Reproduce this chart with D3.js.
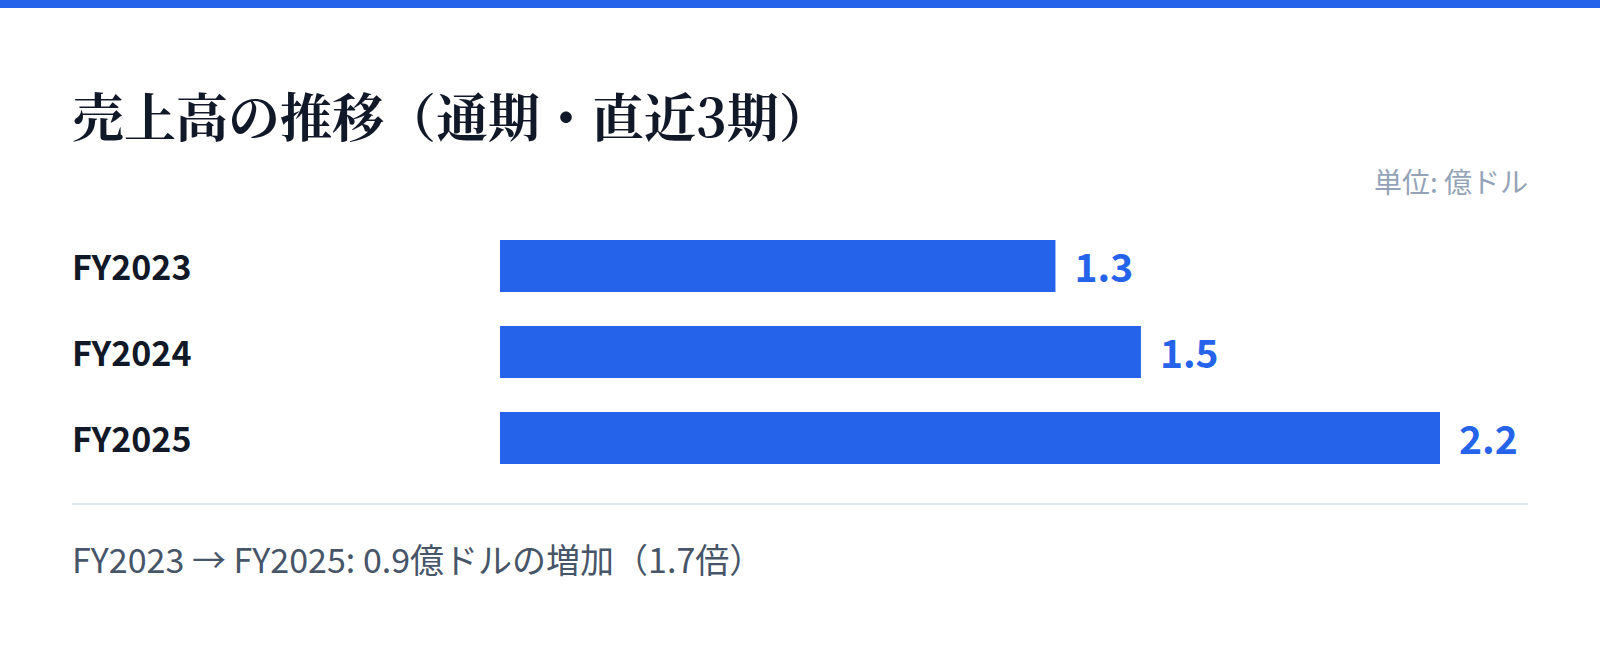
<!DOCTYPE html>
<html>
<head>
<meta charset="utf-8">
<script src="https://cdn.jsdelivr.net/npm/d3@7"></script>
<style>
  html, body { margin: 0; padding: 0; background: #fff; }
  #chart { width: 1600px; height: 647px; }
</style>
</head>
<body>
<div id="chart"></div>
<script>
const categories = ["FY2023", "FY2024", "FY2025"];
const sales = [1.3, 1.5, 2.2];
const title = "売上高の推移（通期・直近3期）";
const unitLabel = "単位: 億ドル";
const footnote = "FY2023 → FY2025: 0.9億ドルの増加（1.7倍）";

function renderSalesChart(containerId) {
  const width = 1600;
  const height = 647;
  const sans = "'Noto Sans CJK JP', 'Noto Sans', sans-serif";
  const serif = "'Noto Serif CJK JP', 'Noto Serif', serif";
  const blue = "#2563eb";
  const left = 72;
  const right = 1528;

  const svg = d3.select(`#${containerId}`)
    .append("svg")
    .attr("width", width)
    .attr("height", height);

  svg.append("rect")
    .attr("x", 0).attr("y", 0)
    .attr("width", width).attr("height", 8)
    .attr("fill", blue);

  svg.append("text")
    .attr("x", left)
    .attr("y", 137)
    .attr("font-family", serif)
    .attr("font-weight", 700)
    .attr("font-size", 52)
    .attr("fill", "#111827")
    .text(title);

  svg.append("text")
    .attr("x", right)
    .attr("y", 193)
    .attr("text-anchor", "end")
    .attr("font-family", sans)
    .attr("font-size", 28)
    .attr("fill", "#94a3b8")
    .text(unitLabel);

  const x = d3.scaleLinear()
    .domain([0, d3.max(sales)])
    .range([500, 1440]);

  // step ~86px, bar ~52px
  const y = d3.scaleBand()
    .domain(categories)
    .range([240, 240 + 86 * 3 - 34])
    .paddingInner(34 / 86)
    .paddingOuter(0);

  const rows = svg.append("g")
    .selectAll("g")
    .data(categories)
    .join("g");

  rows.append("rect")
    .attr("x", x(0))
    .attr("y", d => y(d))
    .attr("width", (d, i) => x(sales[i]) - x(0))
    .attr("height", y.bandwidth())
    .attr("fill", blue);

  rows.append("text")
    .attr("x", left)
    .attr("y", d => y(d) + y.bandwidth() / 2)
    .attr("dy", "0.42em")
    .attr("font-family", sans)
    .attr("font-weight", 700)
    .attr("font-size", 34)
    .attr("fill", "#111827")
    .text(d => d);

  rows.append("text")
    .attr("x", (d, i) => x(sales[i]) + 19)
    .attr("y", d => y(d) + y.bandwidth() / 2)
    .attr("dy", "0.42em")
    .attr("font-family", sans)
    .attr("font-weight", 700)
    .attr("font-size", 39)
    .attr("fill", blue)
    .text((d, i) => sales[i].toFixed(1));

  svg.append("line")
    .attr("x1", left).attr("x2", right)
    .attr("y1", 504).attr("y2", 504)
    .attr("stroke", "#e2e8f0")
    .attr("stroke-width", 2);

  svg.append("text")
    .attr("x", left)
    .attr("y", 573)
    .attr("font-family", sans)
    .attr("font-size", 34)
    .attr("fill", "#475569")
    .text(footnote);
}

renderSalesChart("chart");
</script>
</body>
</html>
